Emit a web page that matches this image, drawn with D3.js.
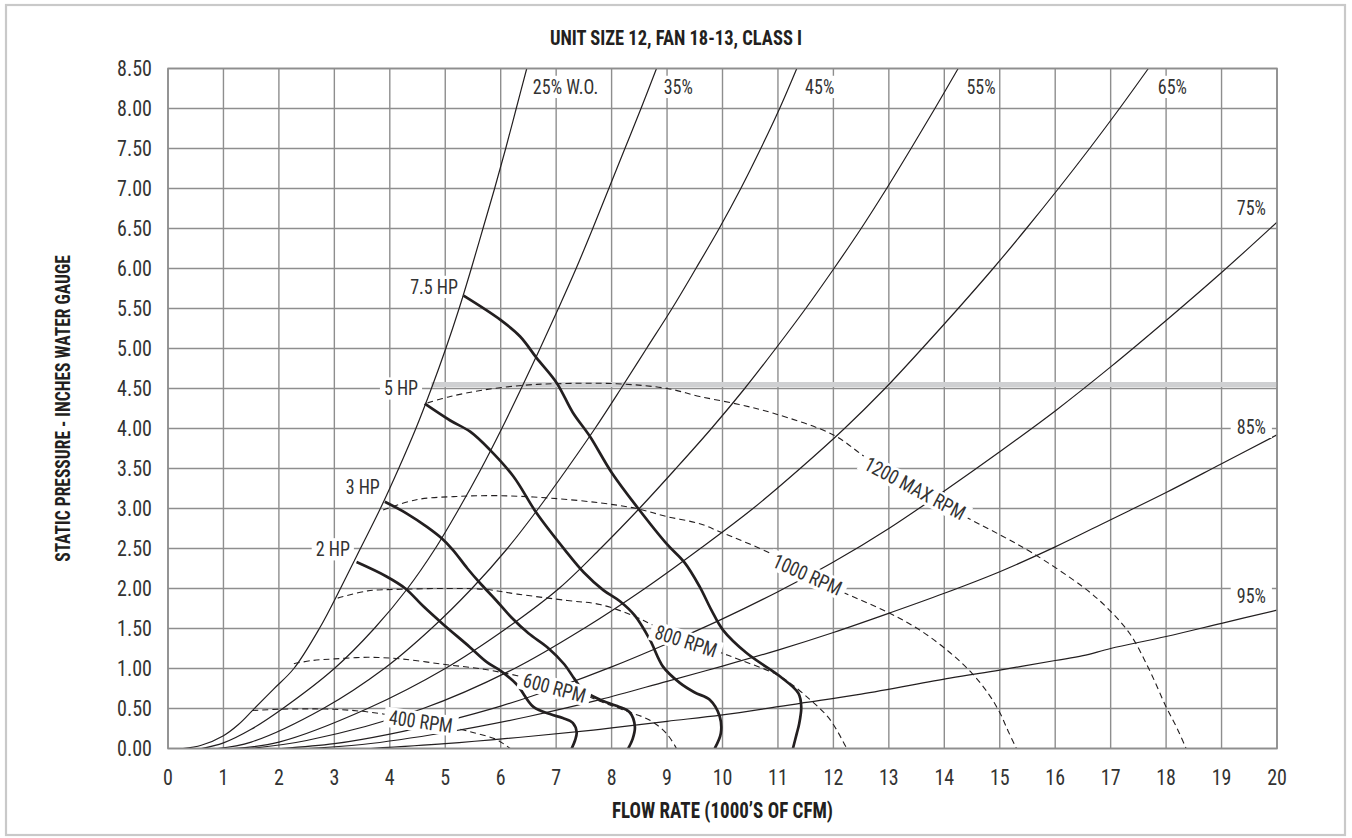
<!DOCTYPE html>
<html><head><meta charset="utf-8">
<script src="https://cdn.jsdelivr.net/npm/d3@7"></script>
<style>
body{margin:0;background:#fff;}
svg text{font-family:"Liberation Sans Narrow","Roboto Condensed","DejaVu Sans Condensed",sans-serif;font-stretch:condensed;fill:#333;}
</style></head><body>
<svg id="c" width="1352" height="838"></svg>
<script>
// ---------- DATA ----------
const TITLE = "UNIT SIZE 12, FAN 18-13, CLASS I";
const X_TITLE = "FLOW RATE (1000’S OF CFM)";
const Y_TITLE = "STATIC PRESSURE - INCHES WATER GAUGE";
const X_TICKS = [0,1,2,3,4,5,6,7,8,9,10,11,12,13,14,15,16,17,18,19,20];
const Y_TICKS = [0,0.5,1,1.5,2,2.5,3,3.5,4,4.5,5,5.5,6,6.5,7,7.5,8,8.5];

// efficiency (system) curves: [flow, pressure]
const eff25 = [[0.27,0],[0.6,0.04],[1.0,0.16],[1.27,0.3],[1.53,0.48],[1.9,0.74],[2.27,1.0],[2.73,1.5],[3.11,2.0],[3.47,2.5],[3.83,3.0],[4.16,3.5],[4.47,4.0],[4.75,4.5],[5.01,5.0],[5.25,5.5],[5.47,6.0],[5.68,6.5],[5.89,7.0],[6.09,7.5],[6.28,8.0],[6.47,8.5]];
const eff35 = [[0.60,0],[1.0,0.07],[1.5,0.24],[2.07,0.5],[3.0,1.0],[3.72,1.5],[4.32,2.0],[4.82,2.5],[5.25,3.0],[5.65,3.5],[6.02,4.0],[6.37,4.5],[6.71,5.0],[7.04,5.5],[7.36,6.0],[7.66,6.5],[7.95,7.0],[8.24,7.5],[8.53,8.0],[8.81,8.5]];
const eff45 = [[0.89,0],[1.5,0.08],[2.8,0.5],[3.9,1.0],[4.75,1.5],[5.48,2.0],[6.12,2.5],[6.68,3.0],[7.2,3.5],[7.7,4.0],[8.17,4.5],[8.63,5.0],[9.09,5.5],[9.52,6.0],[9.94,6.5],[10.33,7.0],[10.69,7.5],[11.03,8.0],[11.34,8.5]];
const eff55 = [[1.17,0],[2.0,0.08],[3.6,0.5],[5.0,1.0],[6.1,1.5],[7.05,2.0],[7.8,2.5],[8.5,3.0],[9.16,3.5],[9.8,4.0],[10.4,4.5],[10.96,5.0],[11.5,5.5],[12.01,6.0],[12.5,6.5],[12.96,7.0],[13.4,7.5],[13.83,8.0],[14.25,8.5]];
const eff65 = [[1.47,0],[2.5,0.1],[4.6,0.5],[6.25,1.0],[7.5,1.5],[8.6,2.0],[9.6,2.5],[10.55,3.0],[11.4,3.5],[12.2,4.0],[12.93,4.5],[13.6,5.0],[14.25,5.5],[14.88,6.0],[15.48,6.5],[16.06,7.0],[16.62,7.5],[17.16,8.0],[17.68,8.5]];
const eff75 = [[2.04,0],[3,0.06],[4,0.18],[5,0.34],[6,0.53],[7,0.76],[8,1.02],[9,1.31],[10,1.62],[11,1.96],[12,2.33],[13,2.75],[14,3.22],[15,3.71],[16,4.22],[17,4.77],[18,5.35],[19,5.95],[20,6.58]];
const eff85 = [[2.52,0],[3.5,0.05],[5.0,0.2],[6.5,0.4],[7.79,0.61],[9.0,0.84],[10.0,1.03],[11.0,1.23],[12.0,1.45],[13.0,1.69],[14.0,1.94],[15.0,2.21],[16.0,2.52],[17.0,2.86],[18.0,3.2],[19.0,3.56],[20.0,3.92]];
const eff95 = [[3.66,0],[5.0,0.06],[6.5,0.15],[7.79,0.24],[9.0,0.34],[10.0,0.42],[11.4,0.565],[12.5,0.68],[14.1,0.88],[15.0,0.98],[16.0,1.1],[16.5,1.16],[17,1.25],[18,1.40],[19,1.565],[20,1.73]];

// horsepower curves
const hp2  = [[3.40,2.33],[3.94,2.15],[4.28,2.0],[4.6,1.78],[4.95,1.56],[5.44,1.27],[5.75,1.08],[6.0,0.97],[6.29,0.8],[6.59,0.52],[6.89,0.43],[7.12,0.38],[7.3,0.32],[7.37,0.2],[7.34,0.1],[7.28,0]];
const hp3  = [[3.91,3.085],[4.30,2.94],[4.67,2.77],[4.93,2.63],[5.14,2.48],[5.4,2.25],[5.65,2.05],[5.92,1.85],[6.19,1.64],[6.5,1.44],[6.85,1.26],[7.15,1.05],[7.33,0.87],[7.5,0.72],[7.79,0.61],[8.1,0.53],[8.33,0.45],[8.42,0.27],[8.38,0.12],[8.3,0]];
const hp5  = [[4.63,4.31],[5.09,4.1],[5.45,3.96],[5.81,3.73],[6.23,3.40],[6.65,2.94],[7.16,2.48],[7.5,2.2],[7.85,1.98],[8.15,1.84],[8.42,1.66],[8.69,1.36],[8.93,1.02],[9.23,0.82],[9.5,0.7],[9.77,0.61],[9.95,0.40],[9.97,0.19],[9.86,0]];
const hp75 = [[5.33,5.66],[5.99,5.36],[6.35,5.15],[6.65,4.88],[7.01,4.57],[7.3,4.2],[7.61,3.9],[8.0,3.45],[8.48,3.0],[8.99,2.56],[9.32,2.32],[9.59,2.02],[9.80,1.73],[10.01,1.48],[10.44,1.19],[11.04,0.9],[11.37,0.69],[11.42,0.52],[11.38,0.3],[11.34,0.19],[11.27,0]];

// fan speed curves
const rpm400  = [[1.52,0.475],[2.0,0.49],[2.5,0.495],[3.0,0.49],[3.5,0.465],[4.0,0.42],[4.5,0.37],[5.0,0.29],[5.5,0.2],[5.9,0.12],[6.05,0.06],[6.17,0]];
const rpm600  = [[2.27,1.06],[2.6,1.1],[3.0,1.12],[3.6,1.14],[4.2,1.12],[5.0,1.05],[5.7,0.99],[6.3,0.91],[6.8,0.83],[7.3,0.73],[7.79,0.59],[8.3,0.46],[8.7,0.35],[9.0,0.18],[9.17,0]];
const rpm800  = [[3.06,1.88],[3.6,1.97],[4.2,1.99],[5.0,2.0],[5.7,1.99],[6.3,1.93],[7.2,1.85],[7.79,1.8],[8.39,1.66],[8.75,1.54],[9.34,1.36],[9.92,1.21],[10.31,1.11],[11.04,0.9],[11.58,0.61],[11.94,0.36],[12.24,0]];
const rpm1000 = [[3.88,2.98],[4.48,3.11],[5.2,3.15],[5.99,3.16],[6.89,3.13],[7.79,3.07],[8.45,3.0],[8.99,2.9],[9.59,2.81],[9.95,2.71],[10.92,2.42],[11.53,2.17],[12.15,1.96],[12.96,1.71],[13.56,1.48],[14.1,1.2],[14.5,0.94],[14.8,0.68],[15.0,0.45],[15.15,0.22],[15.3,0]];
const rpm1200 = [[4.68,4.32],[5.09,4.4],[5.68,4.48],[6.41,4.54],[7.0,4.56],[8.09,4.56],[9.0,4.5],[9.59,4.4],[10.3,4.3],[10.92,4.19],[12.0,3.92],[12.6,3.63],[13.47,3.25],[14.37,2.9],[15.06,2.65],[15.6,2.44],[16.5,2.02],[16.92,1.77],[17.34,1.44],[17.7,0.98],[18.0,0.52],[18.2,0.25],[18.36,0]];

// max-pressure reference band
const refBand = [[4.75,4.55],[20,4.55]];

// labels
const effLabelText = ["25% W.O.","35%","45%","55%","65%"];
const effLabelPos  = [[6.58,8.27],[8.94,8.27],[11.49,8.27],[14.40,8.27],[17.85,8.27]];
const effRightText = ["75%","85%","95%"];
const effRightPos  = [[19.8,6.75],[19.8,4.02],[19.8,1.9]];
const hpLabelText  = ["7.5 HP","5 HP","3 HP","2 HP"];
const hpLabelPos   = [[5.23,5.77],[4.51,4.50],[3.82,3.27],[3.28,2.49]];
const rpmLabelText = ["400 RPM","600 RPM","800 RPM","1000 RPM","1200 MAX RPM"];
const rpmLabelPos  = [[4.56,0.335],[6.97,0.756],[9.34,1.34],[11.53,2.17],[13.47,3.25]];
const rpmLabelAngle = [8,15,18,24,28];

// ---------- DRAW ----------
const svg = d3.select("#c");
const x = d3.scaleLinear().domain([0,20]).range([168,1277]);
const y = d3.scaleLinear().domain([0,8.5]).range([748.5,68.5]);
const INK = "#231f20";
const SY = 1.12; // vertical stretch to mimic tall condensed face

svg.append("rect").attr("x",6).attr("y",5).attr("width",1339).attr("height",830)
  .attr("fill","none").attr("stroke","#c9c9c9").attr("stroke-width",2.2);

svg.append("defs").append("clipPath").attr("id","plot").append("rect")
  .attr("x",x(0)).attr("y",y(8.5)).attr("width",x(20)-x(0)).attr("height",y(0)-y(8.5));

const grid = svg.append("g").attr("stroke","#8e8e8e").attr("stroke-width",1.4);
X_TICKS.forEach(v=>grid.append("line").attr("x1",x(v)).attr("x2",x(v)).attr("y1",y(0)).attr("y2",y(8.5)));
Y_TICKS.forEach(v=>grid.append("line").attr("y1",y(v)).attr("y2",y(v)).attr("x1",x(0)).attr("x2",x(20)));

const plot = svg.append("g").attr("clip-path","url(#plot)");
plot.append("line").attr("x1",x(refBand[0][0])).attr("x2",x(refBand[1][0]))
  .attr("y1",y(refBand[0][1])).attr("y2",y(refBand[1][1]))
  .attr("stroke","#cfd0d2").attr("stroke-width",5);

const line = d3.line().x(d=>x(d[0])).y(d=>y(d[1])).curve(d3.curveCatmullRom.alpha(0.5));

[eff25,eff35,eff45,eff55,eff65,eff75,eff85,eff95].forEach(s=>
  plot.append("path").attr("d",line(s)).attr("fill","none").attr("stroke",INK).attr("stroke-width",1.2));
[rpm400,rpm600,rpm800,rpm1000,rpm1200].forEach(s=>
  plot.append("path").attr("d",line(s)).attr("fill","none").attr("stroke",INK).attr("stroke-width",1.1).attr("stroke-dasharray","6,4"));
[hp2,hp3,hp5,hp75].forEach(s=>
  plot.append("path").attr("d",line(s)).attr("fill","none").attr("stroke",INK).attr("stroke-width",2.7).attr("stroke-linecap","butt"));

function txt(parent, text, px, py, anchor, size, rot, bold){
  const t = parent.append("text")
    .attr("transform",`translate(${px},${py}) rotate(${rot||0}) scale(1,${SY})`)
    .attr("text-anchor",anchor).attr("dominant-baseline","central")
    .attr("font-size",size).text(text);
  if(bold){ t.attr("font-weight","bold").style("fill",INK); }
  return t;
}
function label(text, px, py, anchor, rot, padX, padY, size){
  const g = svg.append("g").attr("transform",`translate(${px},${py}) rotate(${rot||0})`);
  const t = g.append("text").text(text).attr("text-anchor",anchor).attr("dominant-baseline","central")
    .attr("font-size",size||18).attr("transform",`scale(1,${SY})`);
  const b = t.node().getBBox();
  g.insert("rect","text").attr("x",b.x-padX).attr("y",b.y*SY-padY).attr("width",b.width+2*padX).attr("height",b.height*SY+2*padY).attr("fill","#fff");
}
effLabelText.forEach((t,i)=>label(t,x(effLabelPos[i][0]),y(effLabelPos[i][1]),"start",0,2,-1));
effRightText.forEach((t,i)=>label(t,x(effRightPos[i][0]),y(effRightPos[i][1]),"end",0,6,-1));
hpLabelText.forEach((t,i)=>label(t,x(hpLabelPos[i][0]),y(hpLabelPos[i][1]),"end",0,4,-1));
rpmLabelText.forEach((t,i)=>label(t,x(rpmLabelPos[i][0]),y(rpmLabelPos[i][1]),"middle",rpmLabelAngle[i],5,-2));

svg.append("rect").attr("x",x(0)).attr("y",y(8.5)).attr("width",x(20)-x(0)).attr("height",y(0)-y(8.5))
  .attr("fill","none").attr("stroke","#8e8e8e").attr("stroke-width",1.6);

// ticks
const yt = svg.append("g");
Y_TICKS.forEach(d=>txt(yt, d3.format(".2f")(d), x(0)-16, y(d), "end", 20));
const xt = svg.append("g");
X_TICKS.forEach(d=>txt(xt, String(d), x(d), 777, "middle", 20));

// titles
txt(svg, TITLE, 676, 38, "middle", 18.5, 0, true);
txt(svg, X_TITLE, (x(0)+x(20))/2, 811, "middle", 19, 0, true);
svg.append("text").attr("transform",`translate(64,${(y(0)+y(8.5))/2}) rotate(-90) scale(1,${SY})`)
  .attr("text-anchor","middle").attr("dominant-baseline","central")
  .attr("font-size",17.5).attr("font-weight","bold").style("fill",INK).text(Y_TITLE);
</script></body></html>
